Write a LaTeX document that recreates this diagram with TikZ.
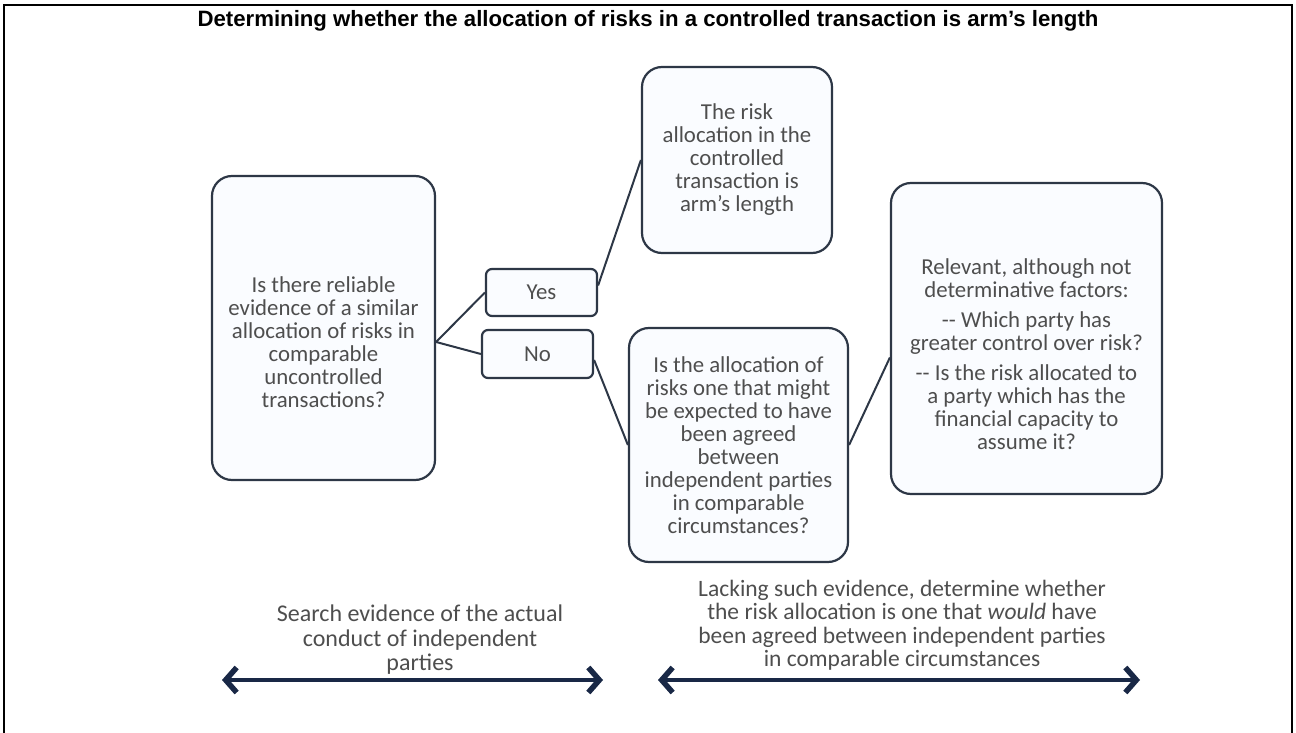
\documentclass[tikz,border=0pt]{standalone}
\usepackage{fontspec}
\setmainfont{Carlito}
\newfontfamily\titlefont{Liberation Sans}
\usetikzlibrary{arrows.meta,positioning}
\definecolor{boxline}{RGB}{45,55,70}
\definecolor{boxfill}{RGB}{250,252,255}
\definecolor{textgrey}{RGB}{78,78,78}
\definecolor{arrownavy}{RGB}{25,40,70}

\begin{document}
\begin{tikzpicture}[x=1pt, y=-1pt,
    bigbox/.style={draw=boxline, line width=2.2pt, fill=boxfill, rounded corners=20pt,
                   align=center, text=textgrey, inner sep=0pt,
                   font=\fontsize{22.8}{23}\selectfont},
    smallbox/.style={bigbox, rounded corners=6pt},
    link/.style={draw=boxline, line width=2pt},
    evarrow/.style={draw=arrownavy, line width=4pt,
                    {Straight Barb[length=11pt, width=25pt, line width=5.5pt]}-{Straight Barb[length=11pt, width=25pt, line width=5.5pt]}},
    bottomtext/.style={align=center, text=textgrey, font=\fontsize{24}{24.5}\selectfont}]

  \useasboundingbox (0,0) rectangle (1296,733);
  % frame
  \draw[line width=2pt] (4,733) -- (4,5) -- (1292,5) -- (1292,733);
  \node[font=\titlefont\bfseries\fontsize{22.2}{24}\selectfont] (title) at (648,21)
    {Determining whether the allocation of risks in a controlled transaction is arm’s length};

  % boxes
  \node[bigbox, minimum width=223, minimum height=304] (question) at (323.5,328)
    {\rule{0pt}{45pt}Is there reliable\\ evidence of a similar\\ allocation of risks in\\ comparable\\ uncontrolled\\ transactions?};
  \node[smallbox, minimum width=111, minimum height=47] (yes) at (541.5,292.5) {Yes};
  \node[smallbox, minimum width=111, minimum height=48] (no) at (537.5,354) {No};
  \node[bigbox, minimum width=190, minimum height=186] (armslength) at (737,160)
    {The risk\\ allocation in the\\ controlled\\ transaction is\\ arm’s length};
  \node[bigbox, minimum width=219, minimum height=234] (expected) at (738.5,445)
    {Is the allocation of\\ risks one that might\\ be expected to have\\ been agreed\\ between\\ independent parties\\ in comparable\\ circumstances?};
  \node[bigbox, minimum width=271, minimum height=311] (factors) at (1026.5,338.5)
    {\rule{0pt}{48pt}Relevant, although not\\ determinative factors:\\[7pt]
     {-}{-} Which party has\\ greater control over risk?\\[7pt]
     {-}{-} Is the risk allocated to\\ a party which has the\\ financial capacity to\\ assume it?};

  % connectors
  \draw[link] ([yshift=-14pt]question.east) -- (yes.west);
  \draw[link] ([yshift=-14pt]question.east) -- (no.west);
  \draw[link] ([yshift=7pt]yes.east) -- (armslength.west);
  \draw[link] ([yshift=-6pt]no.east) -- (expected.west);
  \draw[link] (expected.east) -- ([yshift=-19pt]factors.west);

  % bottom arrows
  \node[bottomtext] (searchtext) at (420,640)
    {Search evidence of the actual\\ conduct of independent\\ parties};
  \node[bottomtext, font=\fontsize{23.5}{23.5}\selectfont] (lackingtext) at (902,625)
    {Lacking such evidence, determine whether\\ the risk allocation is one that \emph{would} have\\ been agreed between independent parties\\ in comparable circumstances};
  \coordinate (searchL) at (222,680);
  \coordinate (searchR) at (603,680);
  \coordinate (lackingL) at (658,680);
  \coordinate (lackingR) at (1140,680);
  \draw[evarrow] (searchL) -- (searchR);
  \draw[evarrow] (lackingL) -- (lackingR);
\end{tikzpicture}
\end{document}
